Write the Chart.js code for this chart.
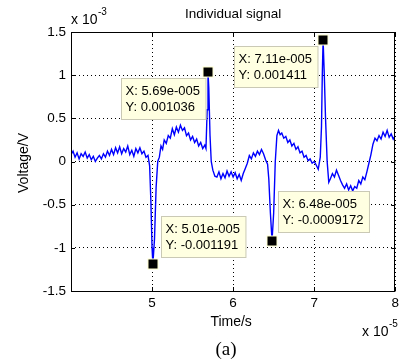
<!DOCTYPE html>
<html><head><meta charset="utf-8">
<script src="https://cdn.jsdelivr.net/npm/chart.js@4.4.0/dist/chart.umd.min.js"></script>
<style>html,body{margin:0;padding:0;background:#fff;}#wrap{width:403px;height:364px;position:relative;}</style>
</head><body><div id="wrap"><canvas id="c" width="403" height="364"></canvas></div>
<script>
// time in units of 1e-5 s, voltage in units of 1e-3 V
const time = [
4.000,4.025,4.050,4.075,4.100,4.125,4.150,4.175,4.200,4.225,4.250,4.275,4.300,4.325,4.350,4.375,4.400,4.425,4.450,4.475,
4.500,4.525,4.550,4.575,4.600,4.625,4.650,4.675,4.700,4.725,4.750,4.775,4.800,4.825,4.850,4.875,4.900,4.925,4.950,4.970,
4.985,5.000,5.010,5.030,5.050,5.070,5.090,5.110,5.130,5.150,5.175,5.200,5.225,5.250,5.275,5.300,5.325,5.350,5.375,5.400,
5.425,5.450,5.475,5.500,5.525,5.550,5.575,5.600,5.625,5.650,5.665,5.680,5.690,5.700,5.715,5.730,5.750,5.775,5.800,5.825,
5.850,5.875,5.900,5.925,5.950,5.975,6.000,6.025,6.050,6.075,6.100,6.125,6.150,6.175,6.200,6.225,6.250,6.275,6.300,6.325,
6.350,6.375,6.400,6.425,6.440,6.460,6.480,6.500,6.520,6.540,6.560,6.580,6.600,6.625,6.650,6.675,6.700,6.725,6.750,6.775,
6.800,6.825,6.850,6.875,6.900,6.925,6.950,6.975,7.000,7.025,7.050,7.075,7.090,7.100,7.110,7.125,7.140,7.160,7.180,7.200,
7.225,7.250,7.275,7.300,7.325,7.350,7.375,7.400,7.425,7.450,7.475,7.500,7.525,7.550,7.575,7.600,7.625,7.650,7.675,7.700,
7.725,7.750,7.775,7.800,7.825,7.850,7.875,7.900,7.925,7.950,7.975,8.000];
const voltage = [
0.08,0.12,0.05,0.10,0.03,0.09,0.06,0.11,0.04,0.08,0.02,0.06,0.00,0.04,0.07,0.03,0.09,0.05,0.12,0.07,
0.14,0.08,0.16,0.10,0.17,0.09,0.15,0.11,0.18,0.08,0.13,0.06,0.15,0.10,0.16,0.09,0.12,0.05,0.07,-0.05,
-0.45,-1.00,-1.191,-0.90,-0.30,0.00,0.05,0.18,0.14,0.25,0.21,0.30,0.27,0.38,0.31,0.40,0.34,0.42,0.36,0.39,
0.30,0.33,0.25,0.29,0.22,0.26,0.18,0.22,0.15,0.19,0.15,0.60,1.036,0.85,0.30,0.00,-0.10,-0.17,-0.18,-0.12,
-0.20,-0.14,-0.19,-0.11,-0.17,-0.12,-0.18,-0.13,-0.20,-0.15,-0.22,-0.14,-0.08,-0.02,0.07,0.03,0.10,0.06,0.12,0.08,
0.14,0.09,0.02,-0.03,-0.20,-0.60,-0.9172,-0.60,0.00,0.30,0.36,0.31,0.33,0.27,0.29,0.22,0.25,0.18,0.21,0.14,
0.17,0.10,0.12,0.05,0.07,0.01,0.03,-0.02,0.00,-0.04,-0.09,0.05,0.40,1.00,1.411,1.00,0.50,0.00,-0.24,-0.20,
-0.14,-0.18,-0.10,-0.16,-0.22,-0.27,-0.31,-0.26,-0.33,-0.28,-0.34,-0.29,-0.31,-0.22,-0.26,-0.18,-0.21,-0.12,-0.02,0.08,
0.20,0.27,0.24,0.30,0.26,0.34,0.29,0.36,0.28,0.32,0.26,0.30];
const xTicks = [5, 6, 7, 8];
const yTicks = [-1.5, -1, -0.5, 0, 0.5, 1, 1.5];
const tipTime = [5.01, 5.69, 6.48, 7.11];
const tipVoltage = [-1.191, 1.036, -0.9172, 1.411];

// layout of datatip boxes relative to marker (px)
const tipLayout = [
  {dx: 8, dy: -48}, {dx: -87, dy: 6}, {dx: 6, dy: -50}, {dx: -89, dy: 6}
];
const FONT = '"Liberation Sans", Arial, Helvetica, sans-serif';

function fmtX(v) { // MATLAB style 5.01e-005
  const s = (v * 1e-5).toExponential(2);
  const [m, e] = s.split('e');
  const sign = e[0] === '-' ? '-' : '+';
  const n = Math.abs(parseInt(e, 10)).toString().padStart(3, '0');
  return 'X: ' + m + 'e' + (sign === '-' ? '-' : '+') + n;
}
function fmtY(v) {
  return 'Y: ' + parseFloat((v * 1e-3).toPrecision(4)).toString().replace(/e.*/, '') ;
}
function fmtY2(v){
  const x = v*1e-3;
  let s = x.toPrecision(4);
  if (s.indexOf('e') >= 0) { s = x.toFixed(7).replace(/0+$/,''); }
  return 'Y: ' + s;
}

const decor = {
  id: 'decor',
  beforeDraw(chart) {
    const ctx = chart.ctx;
    ctx.save(); ctx.fillStyle = '#fff'; ctx.fillRect(0, 0, chart.width, chart.height); ctx.restore();
  },
  afterDraw(chart) {
    const ctx = chart.ctx, a = chart.chartArea;
    const xs = chart.scales.x, ys = chart.scales.y;
    ctx.save();
    // box
    ctx.strokeStyle = '#000'; ctx.lineWidth = 1; ctx.setLineDash([]);
    ctx.strokeRect(Math.round(a.left) + 0.5, Math.round(a.top) + 0.5, Math.round(a.right - a.left) - 1, Math.round(a.bottom - a.top));
    // inner ticks
    ctx.beginPath();
    xTicks.forEach(v => { const p = Math.round(xs.getPixelForValue(v)) + 0.5;
      ctx.moveTo(p, a.bottom); ctx.lineTo(p, a.bottom - 4); ctx.moveTo(p, a.top); ctx.lineTo(p, a.top + 4); });
    yTicks.forEach(v => { const p = Math.round(ys.getPixelForValue(v)) + 0.5;
      ctx.moveTo(a.left, p); ctx.lineTo(a.left + 4, p); ctx.moveTo(a.right, p); ctx.lineTo(a.right - 4, p); });
    ctx.stroke();
    // texts
    ctx.fillStyle = '#000';
    ctx.textAlign = 'center'; ctx.textBaseline = 'middle';
    ctx.font = '13.5px ' + FONT;
    ctx.fillText('Individual signal', (a.left + a.right) / 2, 14);
    ctx.font = '14px ' + FONT;
    ctx.fillText('Time/s', (a.left + a.right) / 2 - 2, 322);
    ctx.save(); ctx.translate(24, 163); ctx.rotate(-Math.PI / 2);
    ctx.fillText('Voltage/V', 0, 0); ctx.restore();
    // multipliers
    ctx.textAlign = 'left'; ctx.textBaseline = 'alphabetic';
    ctx.font = '14px ' + FONT;
    ctx.fillText('x 10', 71, 24);
    ctx.font = '10px ' + FONT;
    ctx.fillText('-3', 98, 15);
    ctx.font = '14px ' + FONT;
    ctx.fillText('x 10', 362, 336);
    ctx.font = '10px ' + FONT;
    ctx.fillText('-5', 389, 327);
    // caption
    ctx.textAlign = 'center'; ctx.textBaseline = 'middle';
    ctx.font = '19px "Liberation Serif", "Times New Roman", serif';
    ctx.fillText('(a)', 226, 350);
    // datatips
    ctx.font = '13px ' + FONT;
    tipTime.forEach((t, i) => {
      const mx = xs.getPixelForValue(t), my = ys.getPixelForValue(tipVoltage[i]);
      const l1 = fmtX(t), l2 = fmtY2(tipVoltage[i]);
      const w = Math.max(ctx.measureText(l1).width, ctx.measureText(l2).width) + 10;
      const h = 41;
      const bx = Math.round(mx + tipLayout[i].dx) + 0.5, by = Math.round(my + tipLayout[i].dy) + 0.5;
      ctx.fillStyle = '#ffffe1'; ctx.fillRect(bx, by, w, h);
      ctx.strokeStyle = '#c9c9b5'; ctx.lineWidth = 1; ctx.strokeRect(bx, by, w, h);
      ctx.fillStyle = '#000'; ctx.textAlign = 'left'; ctx.textBaseline = 'middle';
      ctx.fillText(l1, bx + 4, by + 13);
      ctx.fillText(l2, bx + 4, by + 29);
      // marker
      ctx.fillStyle = '#ffffd0';
      ctx.fillRect(Math.round(mx) - 5.5, Math.round(my) - 5.5, 11, 11);
      ctx.fillStyle = '#000';
      ctx.fillRect(Math.round(mx) - 4.5, Math.round(my) - 4.5, 9, 9);
    });
    ctx.restore();
  }
};

new Chart(document.getElementById('c'), {
  type: 'scatter',
  data: { datasets: [{
    data: time.map((t, i) => ({ x: t, y: voltage[i] })),
    showLine: true, borderColor: '#0000ff', borderWidth: 1.4, pointRadius: 0, tension: 0, fill: false
  }] },
  options: {
    responsive: false, animation: false, devicePixelRatio: 1,
    layout: { padding: { top: 32, right: 4, left: 0, bottom: 0 } },
    plugins: { legend: { display: false }, tooltip: { enabled: false }, title: { display: false } },
    scales: {
      x: {
        type: 'linear', min: 4, max: 8,
        afterBuildTicks: s => { s.ticks = xTicks.map(v => ({ value: v })); },
        afterFit: s => { s.height = 73; },
        ticks: { color: '#000', font: { family: FONT, size: 13.5 }, padding: 4, maxRotation: 0, autoSkip: false,
          callback: v => String(v) },
        grid: { color: '#000', lineWidth: 1, drawTicks: false },
        border: { display: false, dash: [1, 3] }
      },
      y: {
        type: 'linear', min: -1.5, max: 1.5,
        afterBuildTicks: s => { s.ticks = yTicks.map(v => ({ value: v })); },
        afterFit: s => { s.width = 71; },
        ticks: { color: '#000', font: { family: FONT, size: 13.5 }, padding: 5, autoSkip: false,
          callback: v => String(v) },
        grid: { color: '#000', lineWidth: 1, drawTicks: false },
        border: { display: false, dash: [1, 3] }
      }
    }
  },
  plugins: [decor]
});
</script></body></html>
